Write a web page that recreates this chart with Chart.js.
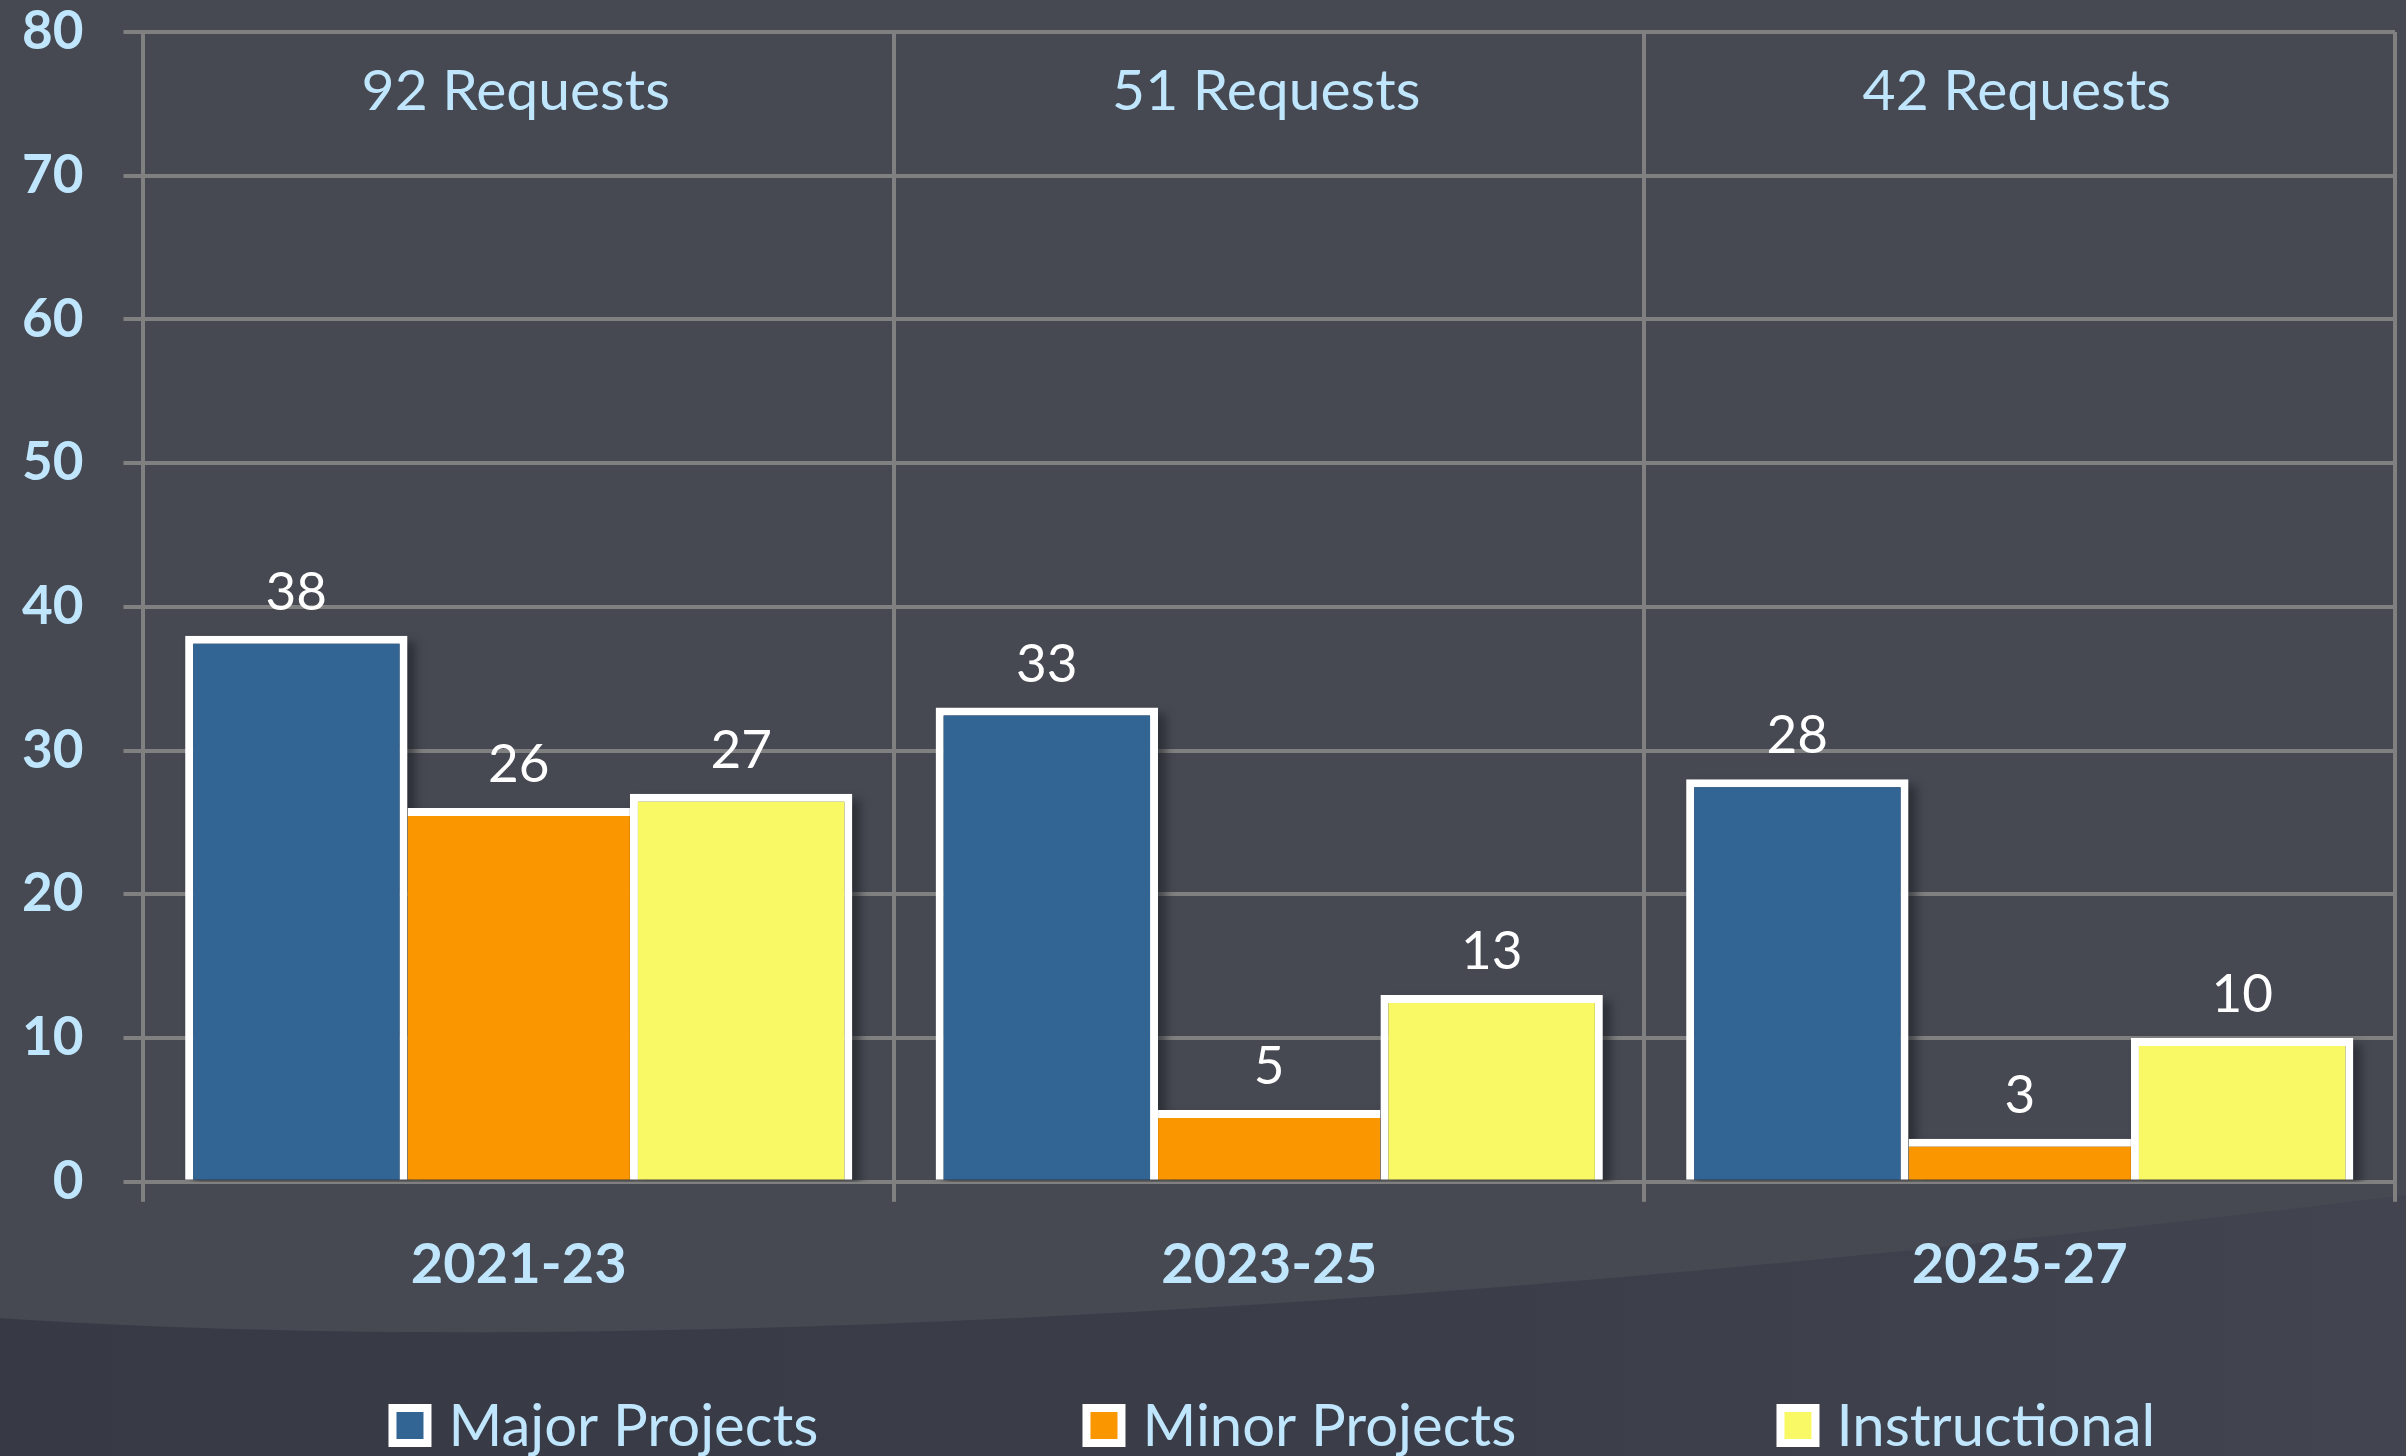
<!DOCTYPE html>
<html>
<head>
<meta charset="utf-8">
<title>Capital requests by biennium</title>
<script src="https://cdn.jsdelivr.net/npm/chart.js@4.4.1/dist/chart.umd.min.js"></script>
<style>
  html, body { margin: 0; padding: 0; background: #464952; }
  #wrap { width: 2406px; height: 1456px; }
</style>
</head>
<body>
<div id="wrap"><canvas id="requestsChart" width="2406" height="1456"></canvas></div>
<script>
// values
var biennia = ['2021-23', '2023-25', '2025-27'];
var requestTotals = [92, 51, 42];
var majorProjects = [38, 33, 28];
var minorProjects = [26, 5, 3];
var instructional = [27, 13, 10];
var seriesNames = ['Major Projects', 'Minor Projects', 'Instructional'];
var seriesColors = ['#336594', '#f99600', '#f9f965'];
var yMax = 80;
var yStep = 10;

var textBlue = '#bfe6fd';
var gridGray = '#808080';
var fontFam = 'Lato, "Open Sans", sans-serif';

// slide background with the darker swoosh at the bottom
var slideBg = {
    id: 'slideBg',
    beforeDraw: function(chart) {
        var ctx = chart.ctx, w = chart.width, h = chart.height;
        ctx.save();
        ctx.fillStyle = '#464952';
        ctx.fillRect(0, 0, w, h);
        var g = ctx.createLinearGradient(0, 0, w, 0);
        g.addColorStop(0, '#373a45');
        g.addColorStop(0.6, '#3b3e49');
        g.addColorStop(1, '#42454f');
        ctx.beginPath();
        ctx.moveTo(0, 1318);
        ctx.bezierCurveTo(500, 1352, 1300, 1330, w, 1195);
        ctx.lineTo(w, h);
        ctx.lineTo(0, h);
        ctx.closePath();
        ctx.fillStyle = g;
        ctx.fill();
        ctx.restore();
    }
};

// soft drop shadow behind each bar
var barShadow = {
    id: 'barShadow',
    beforeDatasetsDraw: function(chart) {
        var ctx = chart.ctx, area = chart.chartArea;
        ctx.save();
        ctx.beginPath();
        ctx.rect(area.left, area.top, area.right - area.left + 20, area.bottom - area.top);
        ctx.clip();
        ctx.filter = 'blur(5px)';
        ctx.fillStyle = 'rgba(25,27,33,0.55)';
        chart.data.datasets.forEach(function(ds, i) {
            chart.getDatasetMeta(i).data.forEach(function(bar) {
                var p = bar.getProps(['x', 'y', 'base', 'width'], true);
                ctx.fillRect(p.x - p.width / 2 + 8, p.y + 6, p.width, p.base - p.y);
            });
        });
        ctx.restore();
    }
};

// value labels above bars and the "N Requests" line per biennium
var barText = {
    id: 'barText',
    afterDatasetsDraw: function(chart) {
        var ctx = chart.ctx;
        ctx.save();
        ctx.fillStyle = '#ffffff';
        ctx.font = '53px ' + fontFam;
        ctx.textAlign = 'center';
        ctx.textBaseline = 'alphabetic';
        chart.data.datasets.forEach(function(ds, i) {
            chart.getDatasetMeta(i).data.forEach(function(bar, j) {
                var p = bar.getProps(['x', 'y'], true);
                ctx.fillText(String(ds.data[j]), p.x, p.y - 26);
            });
        });
        var xs = chart.scales.x;
        ctx.fillStyle = textBlue;
        ctx.font = '57px ' + fontFam;
        ctx.textBaseline = 'middle';
        requestTotals.forEach(function(n, i) {
            ctx.fillText(n + ' Requests', xs.getPixelForValue(i) - 3, chart.chartArea.top + 60);
        });
        ctx.restore();
    }
};

// legend row along the bottom edge
var slideLegend = {
    id: 'slideLegend',
    afterDraw: function(chart) {
        var ctx = chart.ctx, h = chart.height;
        var x0 = chart.chartArea.left + 245, pitch = 694, box = 43, edge = 8;
        ctx.save();
        ctx.font = '58px ' + fontFam;
        ctx.textAlign = 'left';
        ctx.textBaseline = 'alphabetic';
        chart.data.datasets.forEach(function(ds, i) {
            var bx = x0 + i * pitch, by = h - 52;
            ctx.fillStyle = '#ffffff';
            ctx.fillRect(bx, by, box, box);
            ctx.fillStyle = ds.backgroundColor;
            ctx.fillRect(bx + edge, by + edge, box - 2 * edge, box - 2 * edge);
            ctx.fillStyle = textBlue;
            ctx.fillText(ds.label, bx + box + 17, h - 10);
        });
        ctx.restore();
    }
};

var seriesData = [majorProjects, minorProjects, instructional];
var borderSets = [
    {top: 8, left: 8, right: 8, bottom: 8},
    {top: 8, left: 0, right: 0, bottom: 8},
    {top: 8, left: 8, right: 8, bottom: 8}
];

var ctx = document.getElementById('requestsChart').getContext('2d');
var requestsChart = new Chart(ctx, {
    type: 'bar',
    data: {
        labels: biennia,
        datasets: seriesNames.map(function(name, i) {
            return {
                label: name,
                data: seriesData[i],
                backgroundColor: seriesColors[i],
                borderColor: '#ffffff',
                borderWidth: borderSets[i]
            };
        })
    },
    options: {
        responsive: false,
        animation: false,
        devicePixelRatio: 1,
        layout: {
            padding: {left: -18, right: 11, top: 0, bottom: 127}
        },
        datasets: {
            bar: {
                categoryPercentage: 0.889,
                barPercentage: 1.0
            }
        },
        scales: {
            x: {
                grid: {color: gridGray, lineWidth: 4, tickLength: 20, offset: true},
                border: {color: gridGray, width: 4},
                ticks: {
                    color: textBlue,
                    padding: 30,
                    font: {family: fontFam, weight: 'bold', size: 56}
                }
            },
            y: {
                min: 0,
                max: yMax,
                grid: {color: gridGray, lineWidth: 4, tickLength: 20},
                border: {color: gridGray, width: 4},
                ticks: {
                    stepSize: yStep,
                    color: textBlue,
                    padding: 40,
                    font: {family: fontFam, weight: 'bold', size: 53}
                },
                afterFit: function(scale) {
                    // only half a label of room above the top tick
                    scale.paddingTop = 32;
                    scale.paddingBottom = 32;
                }
            }
        },
        plugins: {
            legend: {display: false},
            tooltip: {enabled: false}
        }
    },
    plugins: [slideBg, barShadow, barText, slideLegend]
});
</script>
</body>
</html>
